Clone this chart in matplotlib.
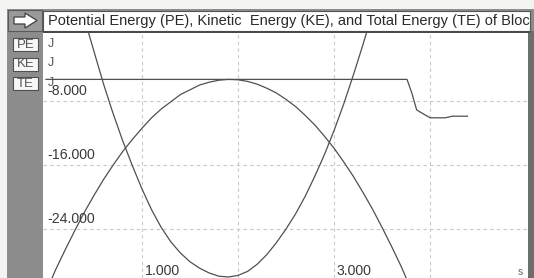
import matplotlib
matplotlib.use("Agg")
import matplotlib.pyplot as plt
from matplotlib.patches import Rectangle, Polygon

# ---------------- data ----------------
t_ke = [0.0, 0.1, 0.2, 0.3, 0.4, 0.5, 0.6, 0.7, 0.8, 0.9, 1.0, 1.1, 1.2, 1.3,
        1.4, 1.5, 1.6, 1.7, 1.8, 1.9, 2.0, 2.1, 2.2, 2.3, 2.4, 2.5, 2.6, 2.7,
        2.8, 2.9, 3.0, 3.1, 3.2, 3.3, 3.4, 3.5, 3.6, 3.7, 3.8]
ke = [-31.9, -29.1, -26.6, -24.2, -21.9, -19.8, -17.8, -16.0, -14.3, -12.8,
      -11.4, -10.1, -9.0, -8.1, -7.2, -6.6, -6.0, -5.65, -5.4, -5.3, -5.35,
      -5.55, -5.9, -6.4, -7.0, -7.8, -8.7, -9.8, -11.0, -12.4, -13.9, -15.6,
      -17.4, -19.4, -21.5, -23.8, -26.2, -28.7, -31.5]

t_pe = [0.3, 0.4, 0.5, 0.6, 0.7, 0.8, 0.9, 1.0, 1.1, 1.2, 1.3, 1.4, 1.5, 1.6,
        1.7, 1.8, 1.9, 2.0, 2.1, 2.2, 2.3, 2.4, 2.5, 2.6, 2.7, 2.8, 2.9, 3.0,
        3.1, 3.2, 3.3, 3.4]
pe = [6.3, 2.3, -1.8, -5.9, -9.6, -13.0, -16.1, -19.0, -21.6, -23.8, -25.6,
      -27.0, -28.1, -28.9, -29.5, -29.9, -30.0, -29.8, -29.3, -28.4, -27.2,
      -25.7, -24.0, -22.1, -19.9, -17.4, -14.7, -11.7, -8.4, -4.8, -1.0, 3.0]

t_te = [0.0, 3.76, 3.81, 3.86, 3.90, 4.00, 4.16, 4.23, 4.39]
te = [-5.3, -5.3, -7.0, -9.1, -9.4, -10.1, -10.1, -9.9, -9.9]

x_ticks = [1.0, 3.0]
x_tick_labels = ["1.000", "3.000"]
x_grid = [1.0, 2.0, 3.0, 4.0]
y_ticks = [-8.0, -16.0, -24.0]
y_tick_labels = ["-8.000", "-16.000", "-24.000"]
series_names = ["PE", "KE", "TE"]
unit_labels = ["J", "J", "J"]
title = "Potential Energy (PE), Kinetic  Energy (KE), and Total Energy (TE) of Block"

# ---------------- layout ----------------
W, H = 534, 278
FONT = "Liberation Sans"
fig = plt.figure(figsize=(W / 100, H / 100), dpi=100)
fig.patch.set_facecolor("#f4f4f2")


def fx(x):
    return x / W


def fy(y):
    return 1 - y / H


def prect(x0, y0, x1, y1, **kw):
    r = Rectangle((fx(x0), fy(y1)), fx(x1) - fx(x0), fy(y0) - fy(y1),
                  transform=fig.transFigure, **kw)
    fig.add_artist(r)
    return r


# gray frame
prect(7, 9, 534, 278, facecolor="#8d8d8d", edgecolor="none", zorder=0)
prect(528, 31, 534, 278, facecolor="#6e6e6e", edgecolor="none", zorder=0)
# arrow box
prect(8, 10, 42, 31, facecolor="#9a9a9a", edgecolor="#5a5a5a", lw=0.8, zorder=1)
arrow = [(14, 17), (25, 17), (25, 13), (37, 20.5), (25, 28), (25, 24), (14, 24)]
fig.add_artist(Polygon([(fx(a), fy(b)) for a, b in arrow], closed=True,
                       transform=fig.transFigure, facecolor="white",
                       edgecolor="#404040", lw=0.9, zorder=2))
# title box
tb = prect(43, 11, 530, 30.5, facecolor="white", edgecolor="#555555", lw=0.8, zorder=1)
tt = fig.text(fx(48), fy(21), title, fontsize=10.55, family=FONT, color="#2a2a2a",
              va="center", ha="left", zorder=3)
tt.set_clip_path(tb)
prect(43, 31, 530, 33, facecolor="#4a4a4a", edgecolor="none", zorder=1)

# series labels in the sidebar
box_y = [38, 57.5, 77]
for name, yb in zip(series_names, box_y):
    prect(13, yb, 38, yb + 13, facecolor="#f7f7f7", edgecolor="#505050", lw=0.8, zorder=2)
    fig.text(fx(25.5), fy(yb + 6.8), name, fontsize=9.5, family=FONT,
             color="#555555", ha="center", va="center", zorder=3)

# ---------------- axes ----------------
ax = fig.add_axes([fx(43), 0, fx(528) - fx(43), fy(33)])
ax.set_facecolor("white")
ax.set_xlim(-0.031, 5.02)
ax.set_ylim(-30.125, 0.5)
for s in ax.spines.values():
    s.set_visible(False)
ax.set_xticks([])
ax.set_yticks([])

for xv in x_grid:
    ax.axvline(xv, color="#c8c8c8", lw=0.8, ls=(0, (3, 3)), zorder=1)
for yv in y_ticks:
    ax.axhline(yv, color="#c8c8c8", lw=0.8, ls=(0, (3, 3)), zorder=1)

lc = "#505050"
ax.plot(t_ke, ke, color=lc, lw=0.9, zorder=3, solid_joinstyle="round")
ax.plot(t_pe, pe, color=lc, lw=0.9, zorder=3, solid_joinstyle="round")
ax.plot(t_te, te, color=lc, lw=0.9, zorder=3, solid_joinstyle="round")

tick_fs = 10.2
for yv, lab in zip(y_ticks, y_tick_labels):
    ax.text(0.008, yv + 0.35, lab, transform=ax.get_yaxis_transform(),
            fontsize=tick_fs, family=FONT, color="#3a3a3a", ha="left", va="bottom", zorder=4)
for xv, lab in zip(x_ticks, x_tick_labels):
    ax.text(xv + 0.03, 0.03, lab, transform=ax.get_xaxis_transform(),
            fontsize=tick_fs, family=FONT, color="#3a3a3a", ha="left", va="center", zorder=4)
ax.text(0.985, 0.025, "s", transform=ax.transAxes, fontsize=7.5, family=FONT,
        color="#666666", ha="center", va="center", zorder=4)

# unit labels next to the series boxes
for u, yb in zip(unit_labels, box_y):
    fig.text(fx(48), fy(yb + 6.0), u, fontsize=9.0, family=FONT, color="#555555",
             ha="left", va="center", zorder=5)

fig.savefig("out.png", dpi=100, facecolor=fig.get_facecolor())
